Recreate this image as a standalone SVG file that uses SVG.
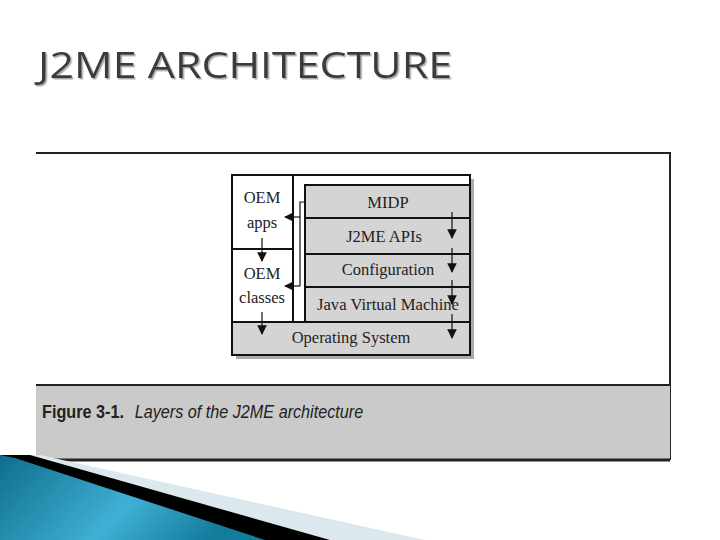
<svg xmlns="http://www.w3.org/2000/svg" width="720" height="540" viewBox="0 0 720 540">
<defs>
<style>
.box{stroke:#111;stroke-width:2}
.g{fill:#d4d4d4}
.w{fill:#fff}
.t{font-family:"Liberation Serif",serif;font-size:16.5px;fill:#222;text-anchor:middle}
.c{stroke:#111;stroke-width:1.2;fill:none}
</style>
<marker id="a" viewBox="0 0 10 10" refX="9" refY="5" markerWidth="8" markerHeight="8" orient="auto"><path d="M0,0L10,5L0,10z" fill="#111"/></marker>
<linearGradient id="bl" x1="0" y1="0" x2="1" y2="0.3"><stop offset="0" stop-color="#0f6d8c"/><stop offset="0.6" stop-color="#3fb0d4"/><stop offset="1" stop-color="#137b9c"/></linearGradient>
<filter id="sh"><feDropShadow dx="1.5" dy="1.5" stdDeviation="0.5" flood-color="#aaa"/></filter>
</defs>
<rect width="720" height="540" fill="#fff"/>
<text x="38" y="78" font-family="Open Sans,DejaVu Sans,sans-serif" font-size="37" fill="#3a3a3a" textLength="414" lengthAdjust="spacingAndGlyphs" filter="url(#sh)">J2ME ARCHITECTURE</text>
<g id="frame">
<path d="M36,153H670V460" fill="none" stroke="#222" stroke-width="2"/>
<rect x="36" y="386" width="634" height="74" fill="#cacaca"/>
<line x1="36" y1="385" x2="670" y2="385" stroke="#222" stroke-width="2"/>
<line x1="36" y1="460" x2="670" y2="460" stroke="#222" stroke-width="3"/>
<text x="42" y="418" font-family="Liberation Sans,sans-serif" font-size="18" fill="#222" transform="scale(0.9,1) translate(4.7,0)"><tspan font-weight="bold">Figure 3-1.</tspan><tspan font-style="italic" dx="12">Layers of the J2ME architecture</tspan></text>
</g>
<rect x="236" y="179" width="238" height="180" fill="#aaa"/>
<g id="oem-apps"><rect class="box w" x="232" y="175" width="61" height="74"/><text class="t" x="262" y="203">OEM</text><text class="t" x="262" y="228">apps</text></g>
<g id="oem-classes"><rect class="box w" x="232" y="249" width="61" height="73"/><text class="t" x="262" y="279">OEM</text><text class="t" x="262" y="303">classes</text></g>
<rect class="box w" x="293" y="175" width="177" height="147"/>
<g id="midp"><rect class="box g" x="305" y="185" width="165" height="33"/><text class="t" x="388" y="208">MIDP</text></g>
<g id="apis"><rect class="box g" x="305" y="218" width="165" height="36"/><text class="t" x="384" y="242">J2ME APIs</text></g>
<g id="config"><rect class="box g" x="305" y="254" width="165" height="33"/><text class="t" x="388" y="275">Configuration</text></g>
<g id="jvm"><rect class="box g" x="305" y="287" width="165" height="35"/><text class="t" x="388" y="310" textLength="142" lengthAdjust="spacingAndGlyphs">Java Virtual Machine</text></g>
<g id="os"><rect class="box g" x="232" y="322" width="238" height="33"/><text class="t" x="351" y="343">Operating System</text></g>
<g id="connectors">
<path class="c" d="M305,202H300V286"/>
<line class="c" x1="300" y1="217" x2="285" y2="217" marker-end="url(#a)"/>
<line class="c" x1="300" y1="286" x2="285" y2="286" marker-end="url(#a)"/>
<line class="c" x1="452" y1="212" x2="452" y2="238" marker-end="url(#a)"/>
<line class="c" x1="452" y1="248" x2="452" y2="272" marker-end="url(#a)"/>
<line class="c" x1="452" y1="280" x2="452" y2="304" marker-end="url(#a)"/>
<line class="c" x1="452" y1="314" x2="452" y2="338" marker-end="url(#a)"/>
<line class="c" x1="262" y1="238" x2="262" y2="261" marker-end="url(#a)"/>
<line class="c" x1="262" y1="312" x2="262" y2="334" marker-end="url(#a)"/>
</g>
<polygon points="0,455 40,455 425,540 0,540" fill="#dbe9ee"/>
<polygon points="0,455 30,455 330,540 0,540" fill="#000"/>
<polygon points="0,455 15,458 265,540 0,540" fill="url(#bl)"/>
</svg>
